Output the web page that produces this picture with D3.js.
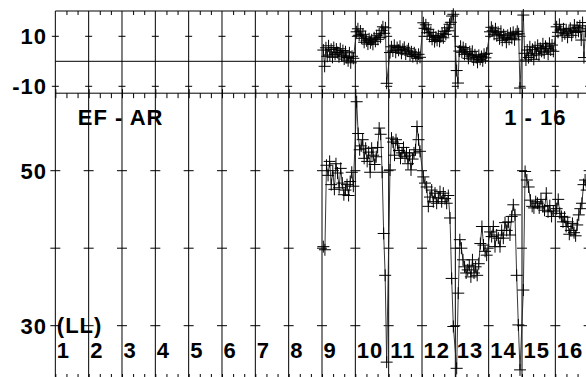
<!DOCTYPE html>
<html><head><meta charset="utf-8">
<script src="https://cdn.jsdelivr.net/npm/d3@7"></script>
<style>html,body{margin:0;padding:0;background:#fff;overflow:hidden}</style>
</head><body><svg id="c" width="586" height="377"></svg>
<script>
// ---- data ----
const segmentIds = [9, 10, 11, 12, 13, 14, 15, 16];
const xLabels = ["1","2","3","4","5","6","7","8","9","10","11","12","13","14","15","16"];
const upperTicks = [10, -10];
const upperTickLabels = ["10", "-10"];
const lowerTicks = [50, 40, 30];
const lowerTickLabels = ["50", "", "30"];
const panelTitle = "EF - AR";
const rangeTitle = "1 - 16";
const scaleNote = "(LL)";

const lowerS9  = [40.2, 39.8, 50.7, 49.4, 51.2, 48.2, 50.0, 47.6, 50.9, 49.7, 47.8, 50.3, 48.4, 46.9, 47.5, 48.2, 46.8, 48.6, 49.8, 48.0];
const lowerS10 = [58.9, 54.8, 52.7, 53.2, 54.0, 51.6, 52.9, 51.2, 52.4, 49.8, 52.9, 52.0, 50.8, 51.8, 53.0, 55.5, 54.7, 49.8, 41.9, 36.5, 25.3];
const lowerS11 = [50.1, 54.2, 53.7, 52.0, 54.0, 53.5, 52.6, 51.6, 52.3, 53.0, 51.8, 52.3, 50.9, 52.0, 50.1, 51.5, 52.3, 52.7, 55.7, 54.0, 52.5];
const lowerS12 = [49.2, 48.4, 47.9, 45.4, 46.6, 47.5, 46.0, 47.1, 45.8, 46.5, 47.3, 46.0, 47.1, 46.4, 45.8, 46.8, 43.9, 36.1, 29.9];
const lowerS13 = [24.5, 34.2, 41.1, 40.0, 38.5, 37.6, 36.8, 37.2, 37.8, 36.3, 38.5, 36.8, 37.6, 36.5, 38.0, 40.6, 42.8, 40.4, 39.6, 39.1];
const lowerS14 = [42.1, 41.5, 42.8, 40.2, 41.7, 41.3, 40.2, 42.3, 41.3, 43.3, 42.3, 43.4, 41.7, 44.1, 45.6, 44.3, 36.5, 30.1, 24.3];
const lowerS15 = [34.6, 49.9, 48.8, 47.9, 46.2, 45.4, 45.2, 46.0, 45.8, 45.2, 46.3, 45.4, 44.9, 47.1, 44.7, 45.5, 44.1, 44.8];
const lowerS16 = [45.1, 46.3, 44.5, 44.1, 43.4, 44.0, 42.8, 43.4, 41.8, 42.3, 43.2, 42.0, 41.6, 43.0, 44.3, 45.1, 45.8, 48.2, 48.8, 47.5];

const upperS9  = [4.5, -2.0, 5.4, 2.0, 6.2, 2.5, 4.8, 1.6, 5.5, 2.8, 4.9, 3.5, 1.8, 5.0, 2.2, 4.3, 0.9, 3.8, 1.5, 0.2, 3.4, -0.6, 2.0, 1.2];
const upperS10 = [11.8, 13.0, 10.4, 12.1, 9.2, 10.8, 7.6, 9.8, 8.2, 6.9, 9.0, 7.4, 8.6, 6.8, 9.4, 8.0, 10.2, 8.8, 11.0, 9.6, 12.4, 13.8, 11.2, 13.4, -8.8];
const upperS11 = [3.5, 5.8, 4.1, 6.4, 3.6, 5.5, 4.4, 6.0, 3.2, 4.8, 5.6, 2.9, 4.2, 5.0, 2.5, 3.8, 1.9, 3.4, 2.6, 1.2, 2.8, 1.6];
const upperS12 = [15.4, 13.2, 14.6, 11.4, 12.8, 10.0, 11.6, 8.8, 10.4, 7.9, 9.6, 8.4, 10.2, 8.0, 9.8, 11.0, 9.4, 12.0, 10.8, 13.4, 12.2, 14.8, 15.6, 18.1, 18.8];
const upperS13 = [-3.7, -8.7, 4.1, 6.0, 3.6, 5.5, 2.8, 4.9, 3.0, 1.2, 3.8, 2.1, 4.0, 0.6, 2.6, 1.5, -0.4, 2.4, 0.8, 1.9, 0.2, 2.8, 1.4, 3.2];
const upperS14 = [11.8, 13.6, 12.2, 10.8, 13.0, 10.2, 11.6, 9.0, 12.0, 8.4, 10.6, 9.6, 7.6, 10.4, 8.8, 11.2, 9.2, 11.6, 8.6, 10.8, 12.0, 11.0, -10.7];
const upperS15 = [18.5, 3.2, 0.5, 4.5, 1.5, 5.8, 2.2, 4.8, 0.8, 5.6, 3.0, 6.4, 2.5, 5.2, 4.0, 7.0, 3.4, 6.0, 5.2, 2.8, 7.2, 4.5, 6.5, 4.0];
const upperS16 = [13.8, 11.6, 14.8, 12.5, 10.2, 13.0, 11.0, 12.6, 9.6, 11.8, 13.2, 10.4, 12.2, 14.5, 11.5, 13.6, 12.0, 14.2, 8.5, 15.5, 1.5, 12.0, 13.0];

const lowerSeries = [lowerS9, lowerS10, lowerS11, lowerS12, lowerS13, lowerS14, lowerS15, lowerS16];
const upperSeries = [upperS9, upperS10, upperS11, upperS12, upperS13, upperS14, upperS15, upperS16];

// ---- layout ----
const svg = d3.select("#c");
const FONT = "'Liberation Sans', Arial, sans-serif";
const topY = 11, sepY = 93.2, botY = 378;
const x  = d3.scaleLinear().domain([1, 17]).range([55.33, 588.67]);
const yU = d3.scaleLinear().domain([-10, 10]).range([86.3, 36.3]);
const yL = d3.scaleLinear().domain([30, 60]).range([325.7, 93.2]);

function toPoints(seriesList) {
  const pts = [];
  seriesList.forEach((vals, s) => {
    const seg = segmentIds[s], n = vals.length;
    vals.forEach((v, i) => pts.push({ t: seg + 0.04 + i * 0.9 / (n - 1), v }));
  });
  return pts;
}
const lowerPts = toPoints(lowerSeries);
const upperPts = toPoints(upperSeries);

const g = svg.append("g");
const stroke = "#000";

// frame lines
[topY, sepY, yU(0), botY].forEach(yy =>
  g.append("line").attr("x1", x(1)).attr("x2", 586).attr("y1", yy).attr("y2", yy).attr("stroke", stroke));

// vertical grid lines
const majors = d3.range(1, 18);
g.selectAll("line.v").data(majors).join("line").attr("class", "v")
  .attr("x1", d => x(d)).attr("x2", d => x(d)).attr("y1", topY).attr("y2", botY)
  .attr("stroke", stroke).attr("stroke-width", 1);

// minor ticks (thirds)
const minors = d3.range(1, 17).flatMap(k => [k + 1/3, k + 2/3]);
const noDomain = a => a.select(".domain").remove();
g.append("g").attr("transform", `translate(0,${topY})`).call(d3.axisBottom(x).tickValues(minors).tickSize(4).tickFormat("")).call(noDomain);
g.append("g").attr("transform", `translate(0,${sepY})`).call(d3.axisBottom(x).tickValues(minors).tickSize(5).tickFormat("")).call(noDomain);
g.append("g").attr("transform", `translate(0,${sepY})`).call(d3.axisBottom(x).tickValues(majors).tickSize(5).tickFormat("")).call(noDomain);
g.append("g").attr("transform", `translate(0,${sepY})`).call(d3.axisTop(x).tickValues(majors).tickSize(4).tickFormat("")).call(noDomain);
g.append("g").attr("transform", `translate(0,${botY})`).call(d3.axisTop(x).tickValues(minors.concat(majors)).tickSize(4).tickFormat("")).call(noDomain);
svg.selectAll(".tick line").attr("stroke", stroke);

// cross ticks on grid lines
majors.forEach(k => {
  upperTicks.forEach(v => g.append("line").attr("x1", x(k) - 3.5).attr("x2", x(k) + 3.5)
    .attr("y1", yU(v)).attr("y2", yU(v)).attr("stroke", stroke));
  lowerTicks.forEach(v => g.append("line").attr("x1", x(k) - 5).attr("x2", x(k) + 5)
    .attr("y1", yL(v)).attr("y2", yL(v)).attr("stroke", stroke));
});

// labels
const lbl = svg.append("g").attr("font-family", FONT).attr("font-weight", "bold")
  .attr("font-size", 22).attr("letter-spacing", 1).attr("fill", "#000");
upperTicks.forEach((v, i) => lbl.append("text").attr("x", 47).attr("y", yU(v) + 8).attr("text-anchor", "end").text(upperTickLabels[i]));
lowerTicks.forEach((v, i) => lbl.append("text").attr("x", 47).attr("y", yL(v) + 8).attr("text-anchor", "end").text(lowerTickLabels[i]));
lbl.append("text").attr("x", x(1) + 1.5).attr("y", yL(30) + 7.5).text(scaleNote);
lbl.selectAll("text.xl").data(xLabels).join("text").attr("class", "xl")
  .attr("x", (d, i) => x(i + 1) + 1.5).attr("y", 357.5).text(d => d);
lbl.append("text").attr("x", x(1) + 22.5).attr("y", 124.5).text(panelTitle);
lbl.append("text").attr("x", x(14) + 15.5).attr("y", 124.5).text(rangeTitle);

// data
const lineU = d3.line().x(d => x(d.t)).y(d => yU(d.v));
const lineL = d3.line().x(d => x(d.t)).y(d => yL(d.v));
const dg = svg.append("g");
dg.append("path").datum(upperPts).attr("d", lineU).attr("fill", "none").attr("stroke", "#222").attr("stroke-width", 0.9);
dg.append("path").datum(lowerPts).attr("d", lineL).attr("fill", "none").attr("stroke", "#222").attr("stroke-width", 0.9);
const plus = "M-6,0H6M0,-6V6";
dg.selectAll("path.mu").data(upperPts).join("path").attr("class", "mu")
  .attr("transform", d => `translate(${x(d.t)},${yU(d.v)})`).attr("d", plus)
  .attr("stroke", "#000").attr("stroke-width", 1).attr("fill", "none");
dg.selectAll("path.ml").data(lowerPts).join("path").attr("class", "ml")
  .attr("transform", d => `translate(${x(d.t)},${yL(d.v)})`).attr("d", plus)
  .attr("stroke", "#000").attr("stroke-width", 1).attr("fill", "none");
</script></body></html>
